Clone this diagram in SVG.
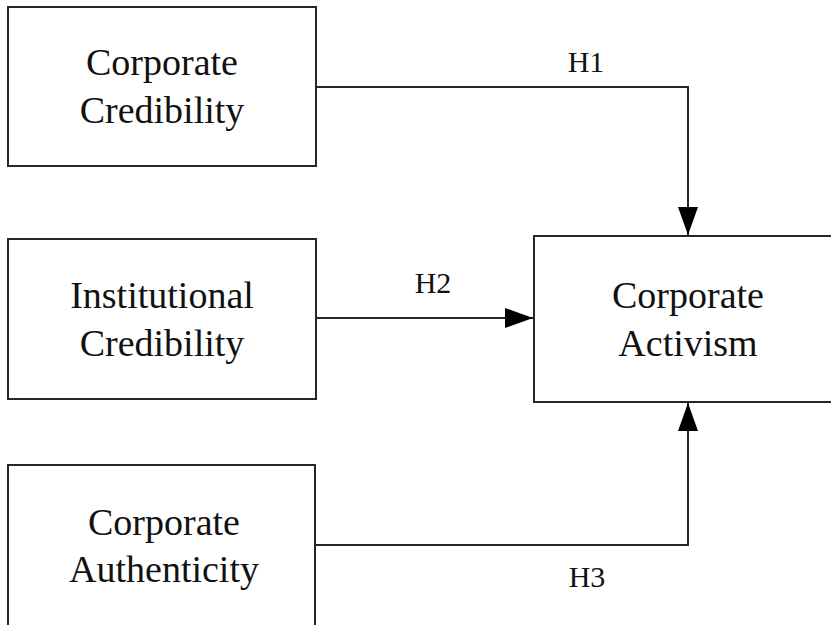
<svg xmlns="http://www.w3.org/2000/svg" width="831" height="625" viewBox="0 0 831 625">
  <defs>
    <style>
      .box { fill: #ffffff; stroke: #262626; stroke-width: 2; }
      .lbl { font-family: "Liberation Serif", "Times New Roman", serif; font-size: 38px; fill: #111111; text-anchor: middle; }
      .hyp { font-family: "Liberation Serif", "Times New Roman", serif; font-size: 30px; fill: #111111; text-anchor: middle; }
      .conn { fill: none; stroke: #262626; stroke-width: 2; }
    </style>
    <marker id="arrow" markerUnits="userSpaceOnUse" markerWidth="30" markerHeight="22" refX="28" refY="10" orient="auto" viewBox="0 0 30 22">
      <path d="M0,0 L28,10 L0,20 Z" fill="#000000"/>
    </marker>
  </defs>
  <rect width="831" height="625" fill="#ffffff"/>

  <g id="node-corporate-credibility">
    <rect class="box" x="8" y="7" width="308" height="159"/>
    <text class="lbl" x="162" y="75">Corporate</text>
    <text class="lbl" x="162" y="123">Credibility</text>
  </g>

  <g id="node-institutional-credibility">
    <rect class="box" x="8" y="239" width="308" height="160"/>
    <text class="lbl" x="162" y="308">Institutional</text>
    <text class="lbl" x="162" y="356">Credibility</text>
  </g>

  <g id="node-corporate-authenticity">
    <rect class="box" x="8" y="465" width="307" height="175"/>
    <text class="lbl" x="164" y="535">Corporate</text>
    <text class="lbl" x="164" y="582">Authenticity</text>
  </g>

  <g id="node-corporate-activism">
    <rect class="box" x="534" y="236" width="308" height="166"/>
    <text class="lbl" x="688" y="308">Corporate</text>
    <text class="lbl" x="688" y="356">Activism</text>
  </g>

  <g id="connectors">
    <path class="conn" d="M316,87 H688 V235" marker-end="url(#arrow)"/>
    <path class="conn" d="M316,318 H533" marker-end="url(#arrow)"/>
    <path class="conn" d="M315,545 H688 V403" marker-end="url(#arrow)"/>
    <text class="hyp" x="586" y="72">H1</text>
    <text class="hyp" x="433" y="293">H2</text>
    <text class="hyp" x="587" y="587">H3</text>
  </g>
</svg>
